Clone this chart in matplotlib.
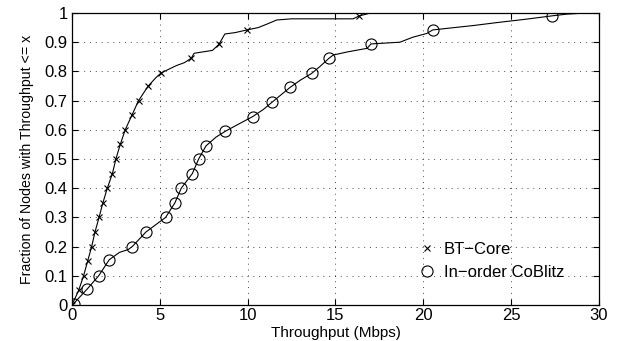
import matplotlib
matplotlib.use('Agg')
import matplotlib.pyplot as plt

plt.rcParams['font.family'] = ['Liberation Sans', 'DejaVu Sans']

# BT-Core CDF: line points and marker points
bt_x = [0.0, 0.38, 0.66, 0.89, 1.12, 1.31, 1.54, 1.76, 2.01, 2.30, 2.50, 2.75,
        3.03, 3.41, 3.79, 4.34, 4.8, 5.08, 5.6, 5.95, 6.4, 6.79, 6.95, 8.0,
        8.37, 8.7, 9.3, 9.96, 10.6, 11.1, 11.65, 12.5, 16.0, 16.35, 17.0, 30.0]
bt_y = [0.0, 0.05, 0.10, 0.15, 0.20, 0.25, 0.30, 0.35, 0.40, 0.45, 0.50, 0.55,
        0.60, 0.65, 0.70, 0.75, 0.78, 0.795, 0.81, 0.82, 0.83, 0.845, 0.862, 0.872,
        0.893, 0.928, 0.933, 0.942, 0.95, 0.962, 0.976, 0.98, 0.98, 0.99, 1.0, 1.0]
bt_mx = [0.0, 0.38, 0.66, 0.89, 1.12, 1.31, 1.54, 1.76, 2.01, 2.30, 2.50, 2.75,
         3.03, 3.41, 3.79, 4.34, 5.08, 6.79, 8.37, 9.96, 16.35]
bt_my = [0.0, 0.05, 0.10, 0.15, 0.20, 0.25, 0.30, 0.35, 0.40, 0.45, 0.50, 0.55,
         0.60, 0.65, 0.70, 0.75, 0.795, 0.845, 0.893, 0.942, 0.99]

# In-order CoBlitz CDF
cb_x = [0.1, 0.87, 1.52, 2.12, 2.7, 3.2, 3.43, 4.21, 5.33, 5.86, 6.22, 6.85,
        7.21, 7.63, 8.2, 8.73, 9.5, 10.28, 10.9, 11.40, 12.41, 13.0, 13.64,
        14.1, 14.63, 14.87, 15.7, 16.8, 17.02, 18.67, 19.4, 20.2, 20.53,
        22.84, 24.17, 25.88, 27.3, 28.15, 29.26, 30.0]
cb_y = [0.005, 0.055, 0.10, 0.155, 0.18, 0.19, 0.20, 0.25, 0.30, 0.35, 0.40, 0.45,
        0.50, 0.545, 0.575, 0.595, 0.62, 0.645, 0.67, 0.695, 0.745, 0.77, 0.793,
        0.816, 0.845, 0.856, 0.867, 0.879, 0.894, 0.90, 0.917, 0.93, 0.942,
        0.957, 0.967, 0.979, 0.99, 0.996, 1.0, 1.0]
cb_mx = [0.1, 0.87, 1.52, 2.12, 3.43, 4.21, 5.33, 5.86, 6.22, 6.85, 7.21, 7.63,
         8.73, 10.28, 11.40, 12.41, 13.64, 14.63, 17.02, 20.53, 27.3]
cb_my = [0.005, 0.055, 0.10, 0.155, 0.20, 0.25, 0.30, 0.35, 0.40, 0.45, 0.50, 0.545,
         0.595, 0.645, 0.695, 0.745, 0.793, 0.845, 0.894, 0.942, 0.99]

fig = plt.figure(figsize=(6.19, 3.41), dpi=100)
ax = fig.add_axes([0.1163, 0.1056, 0.8514, 0.8563])

ax.plot(bt_x, bt_y, color='black', linewidth=0.8)
ax.plot(cb_x, cb_y, color='black', linewidth=0.8)
h1, = ax.plot(bt_mx, bt_my, linestyle='none', marker='x', color='black',
              markersize=5, markeredgewidth=0.8, label='BT\u2212Core')
h2, = ax.plot(cb_mx, cb_my, linestyle='none', marker='o', markerfacecolor='none',
              markeredgecolor='black', markersize=8, markeredgewidth=0.8,
              label='In\u2212order CoBlitz')

ax.set_xlim(0, 30)
ax.set_ylim(0, 1)
ax.set_xticks([0, 5, 10, 15, 20, 25, 30])
ax.set_yticks([0, 0.1, 0.2, 0.3, 0.4, 0.5, 0.6, 0.7, 0.8, 0.9, 1])
ax.set_yticklabels(['0', '0.1', '0.2', '0.3', '0.4', '0.5', '0.6', '0.7', '0.8', '0.9', '1'])
ax.tick_params(direction='in', top=True, right=True, labelsize=12, length=4, pad=3)
ax.tick_params(axis='x', pad=2)
ax.grid(True, linestyle=(0, (1, 5)), color='black', linewidth=0.7, alpha=0.7)
for s in ax.spines.values():
    s.set_linewidth(0.9)

ax.set_xlabel('Throughput (Mbps)', fontsize=11, labelpad=2)
ax.set_ylabel('Fraction of Nodes with Throughput <= x', fontsize=10.2, labelpad=8)

ax.legend(handles=[h1, h2], loc='lower left', bbox_to_anchor=(0.63, 0.035),
          frameon=False, fontsize=12, handlelength=1.0, handletextpad=0.5,
          labelspacing=0.45)

fig.savefig('out.png', dpi=100)
